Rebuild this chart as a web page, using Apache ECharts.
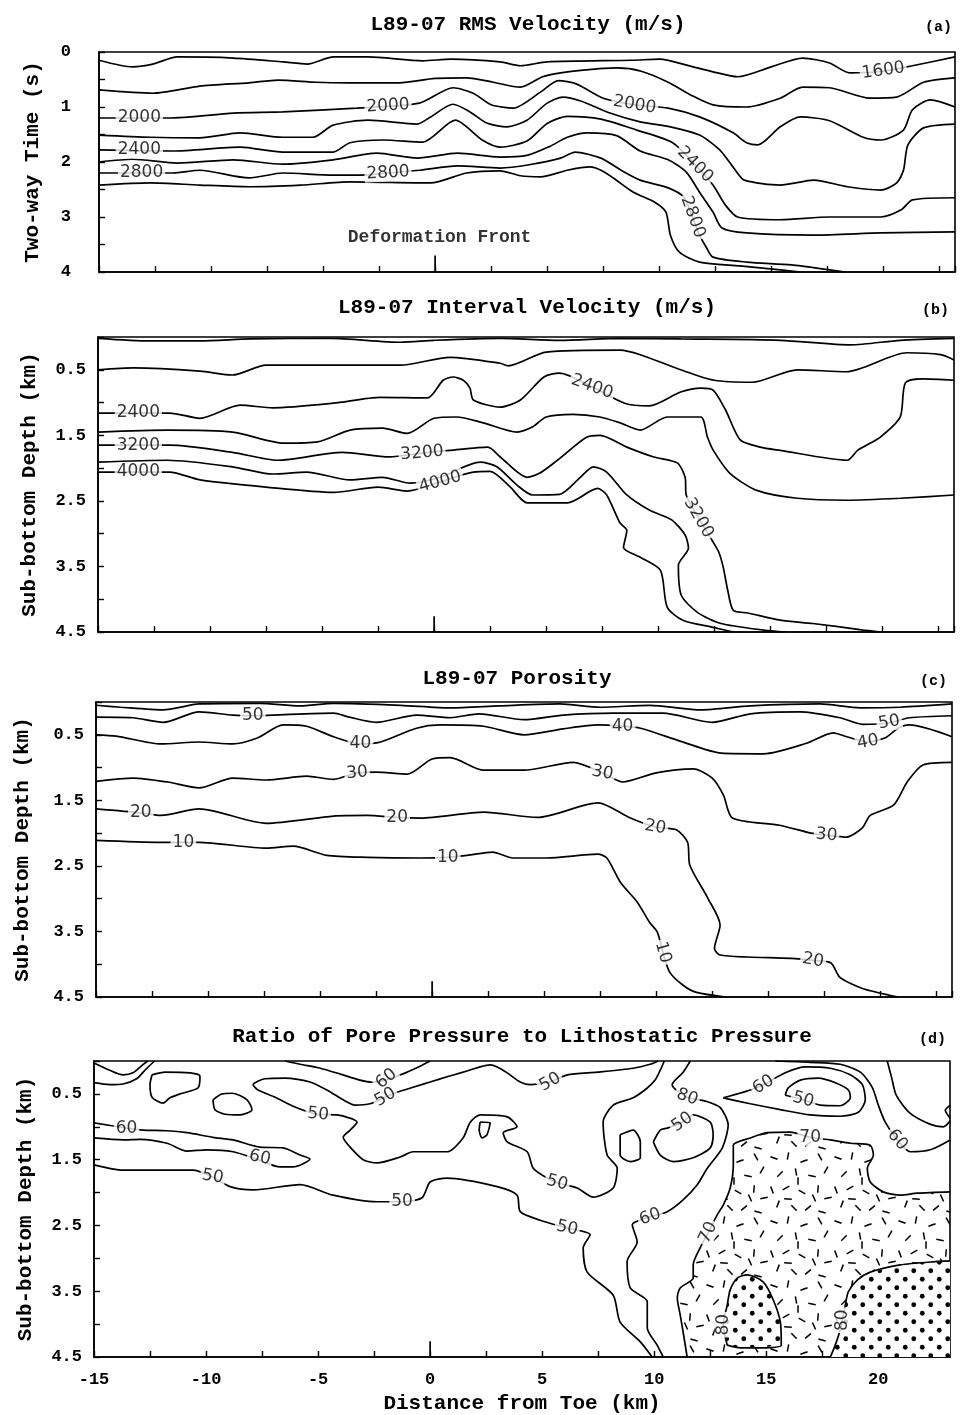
<!DOCTYPE html>
<html><head><meta charset="utf-8">
<script src="https://cdn.jsdelivr.net/npm/echarts@6/dist/echarts.min.js"></script>
<style>html,body{margin:0;padding:0;background:#fff}#chart{width:967px;height:1415px}</style>
</head><body><div id="chart"></div>
<script>
// ================= DATA =================
// x: distance from toe (km); y: two-way time (s) in (a), sub-bottom depth (km) in (b)-(d)
const xMin = -15, xMax = 23.2, xStep = 2.5;
const deformationFrontKm = 0;
const panelYMax = [4, 4.5, 4.5, 4.5];
const panelTitles = ['L89-07 RMS Velocity (m/s)', 'L89-07 Interval Velocity (m/s)', 'L89-07 Porosity', 'Ratio of Pore Pressure to Lithostatic Pressure'];
const panelLetters = ['(a)', '(b)', '(c)', '(d)'];
const yNames = ['Two-way Time (s)', 'Sub-bottom Depth (km)', 'Sub-bottom Depth (km)', 'Sub-bottom Depth (km)'];
const xName = 'Distance from Toe (km)';

// ---- (a) RMS velocity contours ----
const rms1600 = [[-15,0.15],[-13.5,0.27],[-12.6,0.22],[-11.5,0.09],[-9,0.11],[-6.8,0.18],[-5.7,0.22],[-4.55,0.09],[-3,0.09],[-0.55,0.16],[0.7,0.13],[2.9,0.18],[3.8,0.25],[5,0.18],[8.8,0.15],[10,0.13],[11.5,0.27],[12.4,0.36],[13.5,0.45],[15,0.27],[16.4,0.11],[17.6,0.2],[18.5,0.38],[20,0.35],[21.3,0.25],[23.2,0.09]];
const rms1800 = [[-15,0.69],[-12.6,0.75],[-10.5,0.62],[-8.3,0.56],[-7,0.51],[-5.3,0.55],[-3.8,0.56],[-1.6,0.56],[0,0.48],[1.4,0.47],[2.6,0.55],[3.8,0.64],[4.8,0.45],[5.6,0.38],[6.6,0.33],[8.1,0.29],[9.2,0.35],[10.4,0.55],[11.4,0.78],[12.4,0.96],[13.9,1.0],[15.4,0.84],[16.4,0.64],[17.6,0.65],[19.4,0.84],[20.6,0.82],[21.8,0.55],[23.2,0.47]];
const rms2000 = [[-15,1.2],[-11.8,1.2],[-10.9,1.18],[-9,1.11],[-6.8,1.09],[-3.5,1.02],[-0.7,0.93],[0.8,0.65],[1.7,0.75],[2.5,0.96],[3.5,1.02],[4.7,0.73],[5.5,0.52],[6.3,0.58],[7.5,0.84],[8.9,0.96],[10.4,1.02],[11.8,1.18],[13.3,1.47],[13.9,1.65],[14.4,1.69],[15.4,1.36],[16.3,1.18],[17.6,1.25],[19.1,1.55],[19.9,1.6],[20.9,1.42],[21.3,1.05],[22.1,0.87],[23.2,1.0]];
const rms2200 = [[-15,1.51],[-12.7,1.55],[-10.5,1.56],[-8.7,1.47],[-6.8,1.55],[-5.45,1.55],[-4.55,1.33],[-3,1.24],[-0.8,1.31],[-0.2,1.18],[0.8,0.95],[1.56,1.09],[2.3,1.29],[3.2,1.36],[4.1,1.24],[5,0.93],[5.7,0.82],[6.5,0.89],[7.8,1.11],[9.15,1.27],[10.5,1.36],[11.8,1.51],[12.7,1.78],[13.4,2.15],[13.8,2.33],[15.4,2.42],[16.9,2.33],[18.4,2.45],[19.9,2.51],[20.6,2.38],[20.9,2.15],[21.1,1.69],[21.8,1.38],[23.2,1.31]];
const rms2400 = [[-15,1.78],[-11.7,1.8],[-8.7,1.73],[-6.8,1.82],[-4.55,1.82],[-3.8,1.65],[-2.3,1.6],[-0.55,1.64],[0.9,1.24],[2.1,1.6],[2.9,1.73],[4.1,1.62],[5,1.3],[5.9,1.17],[7.4,1.22],[9,1.42],[10.6,1.65],[11.6,2.05],[12.4,2.42],[12.95,2.78],[13.5,3.0],[15.4,3.05],[17.6,3.0],[19.9,3.0],[20.8,2.87],[21.3,2.69],[23.2,2.65]];
const rms2600 = [[-15,2.0],[-13.5,1.95],[-11.5,2.02],[-9,1.96],[-6.8,2.04],[-4.55,1.96],[-2.6,1.84],[-0.8,1.93],[1,1.84],[2.9,1.91],[4.1,1.88],[5.1,1.72],[5.9,1.55],[6.8,1.47],[8.1,1.52],[9.15,1.8],[10.4,1.96],[11.2,2.18],[11.8,2.55],[12.4,2.91],[12.8,3.2],[13.9,3.29],[16.9,3.33],[19.9,3.29],[23.2,3.27]];
const rms2800 = [[-15,2.2],[-11.7,2.2],[-10.5,2.15],[-8.3,2.29],[-6.8,2.2],[-4.55,2.24],[-3.5,2.24],[-2.1,2.2],[-0.7,2.15],[1,2.07],[2.9,2.11],[4.2,2.05],[5.6,1.93],[6.25,1.82],[7.4,1.93],[8.3,2.15],[9.15,2.33],[10.4,2.47],[11.1,2.64],[11.5,3.02],[11.8,3.33],[12.1,3.55],[12.4,3.73],[13.9,3.82],[15.9,3.87],[17.6,3.96],[18.3,4.0]];
const rms3000 = [[-15,2.42],[-12.7,2.38],[-10.5,2.42],[-8.3,2.45],[-6,2.42],[-3.8,2.36],[-0.2,2.38],[1.4,2.2],[2.9,2.16],[3.8,2.25],[4.7,2.27],[5.9,2.15],[6.9,2.09],[7.4,2.15],[7.95,2.29],[8.85,2.55],[9.8,2.73],[10.3,2.91],[10.5,3.33],[10.9,3.64],[11.8,3.82],[13.6,3.89],[15.4,3.96],[16.3,4.0]];
const rmsLabels = [['2000',-13.2,1.2,0],['2000',-2.1,0.98,3],['2000',8.9,0.96,-10],['1600',20,0.34,8],['2400',-13.2,1.78,0],['2400',11.6,2.05,-45],['2800',-13.1,2.2,0],['2800',-2.1,2.2,3],['2800',11.5,3.0,-70]];

// ---- (b) interval velocity contours ----
const int1800 = [[-15,0.02],[-12.7,0.06],[-10.45,0.06],[-8.2,0.03],[-4.6,0.02],[-1.5,0.08],[0,0.05],[2.95,0.02],[5.6,0.05],[8.3,0.02],[11,0.03],[15.45,0.05],[18.6,0.12],[20.8,0.05],[23.2,0.02]];
const int2000 = [[-15,0.5],[-13.4,0.47],[-10.45,0.52],[-9,0.58],[-7.5,0.43],[-4.5,0.43],[-1.5,0.43],[0.7,0.31],[2.95,0.4],[3.3,0.44],[5,0.23],[8.3,0.2],[9.2,0.27],[11,0.5],[12.5,0.66],[14.2,0.69],[16.2,0.5],[18.4,0.53],[21.1,0.24],[22.6,0.27],[23.2,0.35]];
const int2400 = [[-15,1.16],[-11.8,1.16],[-10.45,1.24],[-8.66,1.04],[-7.2,1.08],[-4.5,1.01],[-2.4,0.92],[-0.3,0.93],[0.4,0.66],[0.85,0.61],[1.3,0.66],[1.6,0.78],[1.75,0.96],[2.95,1.07],[3.85,0.96],[4.9,0.61],[5.6,0.55],[7.05,0.76],[8.5,1.01],[9.6,1.05],[11,0.84],[11.9,0.78],[12.45,0.81],[13,1.11],[13.66,1.57],[14.55,1.68],[15.45,1.73],[18.44,1.88],[18.9,1.73],[19.9,1.53],[20.8,1.22],[21.03,0.7],[21.8,0.64],[23.2,0.66]];
const int2800 = [[-15,1.45],[-11.9,1.42],[-9,1.45],[-6.7,1.62],[-5.2,1.6],[-3.75,1.42],[-2.3,1.39],[-1.2,1.47],[0,1.24],[1,1.22],[2.2,1.31],[3.7,1.45],[4.4,1.37],[5,1.22],[6.2,1.18],[7.4,1.22],[8.3,1.31],[9.2,1.42],[10.4,1.22],[11.9,1.22],[12.2,1.53],[12.46,1.73],[13.2,2.08],[14.4,2.34],[16.2,2.46],[18.4,2.49],[20.8,2.46],[23.2,2.41]];
const int3200 = [[-15,1.65],[-11.8,1.65],[-9,1.76],[-7,1.88],[-4.1,1.76],[-2,1.83],[-0.54,1.77],[0.7,1.73],[2.4,1.68],[2.95,1.83],[4.15,2.14],[4.7,2.08],[5.5,1.88],[6.8,1.53],[7.4,1.5],[8.6,1.68],[9.8,1.83],[10.85,1.92],[11.2,2.14],[11.25,2.41],[11.8,2.76],[12.4,3.1],[12.7,3.28],[12.9,3.51],[13.1,3.86],[13.35,4.17],[14,4.21],[15.45,4.32],[16.9,4.37],[19.15,4.47],[19.9,4.5]];
const int3600 = [[-15,1.91],[-11.9,1.88],[-9,1.98],[-7.2,2.09],[-5.7,2.06],[-3.75,2.18],[-2.3,2.14],[-1.07,2.23],[0.27,2.14],[2.05,1.91],[2.8,1.98],[3.7,2.26],[4.4,2.41],[5.6,2.4],[6.5,2.15],[7.1,1.98],[7.7,2.06],[8.6,2.41],[9.6,2.64],[10.6,2.79],[11.2,3.02],[11.35,3.22],[10.9,3.48],[11.03,3.94],[11.75,4.2],[12.8,4.37],[14.7,4.47],[15.7,4.5]];
const int4000 = [[-15,2.06],[-11.8,2.06],[-10.45,2.18],[-7.5,2.29],[-4.5,2.37],[-2.5,2.29],[-1.2,2.35],[0.27,2.21],[1.75,2.06],[2.5,2.05],[3.4,2.29],[4.15,2.53],[5.95,2.53],[7.3,2.31],[7.7,2.41],[8.3,2.84],[8.6,2.95],[8.45,3.21],[9.2,3.36],[10.1,3.56],[10.4,4.12],[11.1,4.32],[12.45,4.43],[13.35,4.5]];
const intLabels = [['2400',-13.2,1.16,0],['2400',7.05,0.76,-20],['3200',-13.2,1.65,0],['3200',-0.54,1.77,5],['3200',11.8,2.76,-60],['4000',-13.2,2.06,0],['4000',0.27,2.21,15]];

// ---- (c) porosity contours (%) ----
const por60 = [[-15,0.05],[-13.9,0.08],[-12,0.12],[-10.4,0.03],[-7.7,0.02],[-5.9,0.06],[-4.4,0.02],[-1.4,0.05],[0.8,0.09],[3,0.06],[5.7,0.03],[7.5,0.08],[9.7,0.05],[12,0.12],[14.2,0.06],[17.3,0.03],[19.1,0.09],[20.9,0.08],[23.2,0.03]];
const por50 = [[-15,0.23],[-13.35,0.24],[-12,0.31],[-10.4,0.15],[-8.9,0.2],[-8,0.21],[-7.1,0.2],[-4.4,0.17],[-3.7,0.23],[-2.5,0.31],[-0.7,0.2],[0.8,0.24],[2.1,0.18],[4.1,0.27],[5.85,0.2],[8.1,0.17],[10.3,0.17],[12.5,0.31],[14.2,0.18],[16.4,0.15],[18.2,0.24],[19.2,0.34],[20.4,0.32],[21.3,0.24],[23.2,0.21]];
const por40 = [[-15,0.5],[-14.1,0.52],[-12.1,0.64],[-10.4,0.61],[-8.9,0.64],[-7.8,0.55],[-6.65,0.35],[-5.6,0.37],[-4.4,0.53],[-3.2,0.64],[-2.3,0.61],[-0.7,0.4],[0.35,0.35],[2.3,0.37],[4.1,0.5],[5.85,0.41],[7.4,0.35],[8.5,0.37],[9.3,0.4],[11.1,0.6],[12.9,0.78],[14.8,0.79],[16.7,0.63],[17.9,0.47],[18.5,0.53],[19.45,0.61],[20.2,0.55],[20.8,0.4],[21.3,0.35],[23.2,0.53]];
const por30 = [[-15,1.21],[-13.35,1.16],[-11.8,1.22],[-10.4,1.31],[-8.9,1.16],[-7.4,1.19],[-5.6,1.13],[-4.4,1.18],[-3.35,1.08],[-2.5,1.07],[-1.1,1.1],[0,0.87],[0.8,0.85],[2.3,1.04],[4.1,1.04],[6.3,0.92],[7.6,1.08],[8.5,1.22],[10,1.08],[11.65,1.02],[12.5,1.16],[13,1.42],[13.4,1.77],[15.5,1.88],[16.9,2.0],[17.6,2.03],[18.5,2.06],[19.2,1.92],[19.55,1.73],[20.6,1.57],[21.2,1.22],[21.9,0.96],[23.2,0.92]];
const por20 = [[-15,1.63],[-13,1.69],[-12.1,1.73],[-10.4,1.63],[-7.4,1.85],[-4.4,1.74],[-2.9,1.73],[-1.56,1.76],[-0.5,1.77],[2.3,1.68],[4.7,1.76],[7.4,1.54],[8.85,1.77],[9.96,1.91],[10.9,1.95],[11.4,2.14],[11.5,2.49],[12.3,2.99],[12.85,3.4],[12.6,3.76],[12.85,3.86],[14.1,3.89],[16,3.91],[17,3.94],[17.8,3.98],[18.2,4.2],[19.2,4.37],[20.8,4.5]];
const por10 = [[-15,2.11],[-12.1,2.14],[-11.1,2.14],[-10.4,2.14],[-7.4,2.23],[-6.2,2.2],[-4.7,2.34],[-2.9,2.37],[-0.5,2.38],[0.7,2.37],[1.56,2.34],[2.7,2.29],[3.6,2.38],[5.1,2.38],[7.4,2.32],[7.8,2.38],[8.4,2.75],[9.15,3.05],[9.7,3.36],[10.05,3.51],[10.3,3.82],[10.6,4.12],[11.2,4.32],[11.8,4.43],[13.1,4.5]];
const porLabels = [['50',-8,0.21,0],['40',-3.2,0.64,0],['40',8.5,0.37,0],['40',19.45,0.61,10],['50',20.4,0.31,10],['30',-3.35,1.08,5],['30',7.6,1.08,-10],['30',17.6,2.03,-5],['20',-13.0,1.69,0],['20',-1.56,1.76,0],['20',9.96,1.91,-10],['20',17.0,3.94,-10],['10',-11.1,2.14,0],['10',0.7,2.37,0],['10',10.3,3.82,-75]];

// ---- (d) pore pressure / lithostatic pressure contours (%) ----
const pTopLeftA = [[-15,0.03],[-14.3,0.14],[-13.7,0.21],[-13.26,0.18],[-12.8,0.05],[-12.6,0]];
const pTopLeftB = [[-15,0.33],[-14.3,0.36],[-13.7,0.35],[-13.1,0.27],[-12.7,0.13],[-12.3,0]];
const pLoopA = [[-12.41,0.21],[-11.83,0.17],[-10.71,0.18],[-10.27,0.23],[-10.36,0.41],[-11.16,0.5],[-11.61,0.56],[-11.92,0.64],[-12.41,0.55],[-12.5,0.36],[-12.41,0.21]];
const pLoopB = [[-9.69,0.59],[-9.29,0.5],[-8.84,0.49],[-8.17,0.59],[-7.95,0.74],[-8.48,0.82],[-9.15,0.81],[-9.6,0.74],[-9.69,0.59]];
const p60Top = [[-6.47,0],[-5.8,0.05],[-4.9,0.11],[-4,0.2],[-3.13,0.29],[-2.6,0.32],[-1.9,0.28],[-1.1,0.18],[-0.45,0.08],[0,0]];
const p50Upper = [[10.18,0],[9.82,0.05],[9.06,0.11],[7.46,0.17],[6.12,0.21],[5.36,0.32],[4.46,0.36],[4.02,0.32],[3.44,0.18],[2.99,0.09],[2.68,0.06],[2.23,0.09],[1.47,0.17],[0.76,0.24],[0,0.32],[-0.76,0.4],[-1.34,0.46],[-2.01,0.55],[-2.68,0.65],[-3.35,0.67],[-3.88,0.59],[-4.46,0.47],[-5.36,0.32],[-6.47,0.26],[-7.37,0.27],[-7.9,0.36],[-7.68,0.44],[-6.92,0.55],[-6.03,0.7],[-5.04,0.81],[-4.15,0.82],[-3.26,0.93],[-3.57,1.05],[-3.88,1.16],[-3.57,1.31],[-2.99,1.5],[-2.37,1.55],[-1.34,1.46],[-0.76,1.38],[0.76,1.38],[1.47,1.17],[1.79,0.93],[2.23,0.82],[3.44,0.85],[3.88,1.0],[3.26,1.09],[3.44,1.23],[4.33,1.38],[4.6,1.63],[5.22,1.78],[5.67,1.85],[6.56,1.93],[7.28,2.07],[8.17,1.93],[8.35,1.63],[7.9,1.43],[7.72,0.93],[8.17,0.67],[9.06,0.56],[9.69,0.41],[10.04,0.29],[10.27,0.14],[10.45,0]];
const pSmallLoop1 = [[2.23,0.93],[2.68,0.94],[2.54,1.12],[2.32,1.17],[2.19,1.05],[2.23,0.93]];
const p60Left = [[-15,0.94],[-13.53,1.02],[-12.81,1.05],[-11.74,1.06],[-10.85,1.09],[-9.69,1.16],[-8.79,1.2],[-7.59,1.31],[-6.56,1.32],[-5.8,1.43],[-5.36,1.49],[-6.12,1.61],[-6.7,1.61],[-7.68,1.5],[-8.79,1.38],[-9.96,1.35],[-10.85,1.37],[-11.74,1.25],[-12.95,1.19],[-13.71,1.2],[-15,1.17]];
const p50Left = [[-15,1.58],[-13.71,1.66],[-10.58,1.66],[-9.73,1.76],[-8.93,1.91],[-7.9,1.96],[-5.8,1.88],[-4.33,2.04],[-2.37,2.14],[-1.25,2.14],[-0.36,2.08],[0,1.84],[0.76,1.78],[2.99,1.91],[3.88,2.04],[4.02,2.29],[4.91,2.42],[6.12,2.54],[7.14,2.64],[6.83,2.84],[7.01,3.21],[8.17,3.56],[8.48,3.97],[9.38,4.27],[9.91,4.5]];
const p50Loop = [[9.96,1.23],[10.27,1.05],[10.58,1.02],[11.25,0.93],[11.74,0.82],[12.5,0.93],[12.63,1.12],[12.5,1.32],[11.74,1.47],[10.85,1.53],[10.27,1.43],[9.96,1.23]];
const pSmallLoop2 = [[8.48,1.12],[9.06,1.05],[9.38,1.23],[9.38,1.47],[8.93,1.53],[8.48,1.43],[8.48,1.12]];
const p60Mid = [[11.61,0],[11.29,0.17],[10.8,0.36],[11.47,0.55],[12.28,0.61],[12.95,0.71],[13.3,0.97],[13.04,1.32],[12.37,1.63],[11.92,1.88],[11.29,2.11],[10.58,2.29],[9.82,2.37],[9.02,2.49],[9.24,2.75],[8.79,3.05],[8.93,3.45],[9.69,3.66],[9.69,4.06],[10.13,4.32],[10.4,4.5]];
const p60RightLoop = [[13.08,0.56],[13.71,0.5],[14.29,0.44],[14.87,0.36],[15.85,0.18],[16.74,0.09],[17.86,0.11],[18.75,0.21],[19.29,0.36],[19.42,0.59],[19.11,0.78],[18.3,0.84],[16.96,0.82],[15.63,0.74],[14.29,0.65],[13.08,0.56]];
const p50RightLoop = [[15.85,0.52],[16.65,0.59],[17.41,0.67],[18.3,0.68],[18.75,0.56],[18.66,0.44],[18.08,0.33],[17.32,0.26],[16.52,0.29],[15.98,0.41],[15.85,0.52]];
const p60Right = [[15.4,0],[16.96,0.02],[18.3,0.05],[19.2,0.17],[19.73,0.4],[20.0,0.67],[20.31,0.93],[20.85,1.2],[21.43,1.38],[22.32,1.35],[23.21,1.2]];
const pRightEdgeA = [[20.4,0],[20.6,0.26],[20.8,0.52],[21.4,0.79],[22.3,0.96],[22.9,1.0],[23.21,0.91]];
const pRightEdgeB = [[23.21,0.67],[22.99,0.75],[23.21,0.87]];
const p70 = [[11.47,4.5],[11.29,4.12],[11.16,3.86],[11.03,3.6],[11.16,3.45],[11.74,3.3],[11.74,3.1],[12.05,2.84],[12.41,2.61],[12.81,2.34],[13.08,2.19],[13.39,1.93],[13.53,1.58],[13.53,1.28],[14.29,1.17],[15.04,1.09],[16.07,1.08],[16.96,1.16],[17.86,1.2],[18.75,1.25],[19.64,1.28],[19.78,1.43],[19.51,1.63],[19.64,1.84],[20.22,1.99],[20.98,2.04],[21.74,2.01],[23.21,1.99]];
const p80Right = [[17.86,4.5],[18.08,4.32],[18.3,4.09],[18.39,3.94],[18.53,3.71],[18.66,3.51],[19.06,3.33],[19.64,3.21],[20.98,3.1],[22.54,3.05],[23.21,3.04]];
const p80Left = [[13.26,4.32],[13.08,4.01],[13.26,3.71],[13.39,3.48],[13.71,3.3],[14.15,3.25],[14.87,3.36],[15.31,3.63],[15.63,3.97],[15.67,4.32],[14.73,4.36],[13.84,4.36],[13.26,4.32]];
const poreLabels = [['60',-13.55,1.02,0],['60',-7.6,1.47,-12],['50',-9.7,1.76,-10],['50',-5.0,0.81,-5],['60',-1.95,0.27,40],['50',-2.0,0.55,30],['50',5.36,0.32,30],['50',-1.25,2.14,0],['50',5.67,1.85,-15],['50',6.12,2.54,-12],['60',9.82,2.37,20],['50',11.25,0.93,35],['80',11.47,0.55,-20],['60',14.87,0.36,30],['50',16.65,0.59,-15],['70',16.96,1.16,0],['60',20.85,1.2,-50],['70',12.41,2.61,65],['80',13.08,4.01,90],['80',18.39,3.94,90]];

const frontLabel = ['Deformation Front', 0.2, 3.38];

// ================= CHART =================
const panelLines = [
  [rms1600, rms1800, rms2000, rms2200, rms2400, rms2600, rms2800, rms3000],
  [int1800, int2000, int2400, int2800, int3200, int3600, int4000],
  [por60, por50, por40, por30, por20, por10],
  [pTopLeftA, pTopLeftB, pLoopA, pLoopB, p60Top, p50Upper, pSmallLoop1, p60Left, p50Left, p50Loop, pSmallLoop2, p60Mid, p60RightLoop, p50RightLoop, p60Right, pRightEdgeA, pRightEdgeB, p70, p80Right, p80Left]
];
const panelLabels = [rmsLabels, intLabels, porLabels, poreLabels];

const grids = [
  {left: 99, right: 12, top: 52, height: 220},
  {left: 98, right: 13, top: 337, height: 295},
  {left: 96, right: 15, top: 702, height: 295},
  {left: 94, right: 17, top: 1061, height: 296}
];
const titleY = [25, 308, 679, 1037];
const titleX = [528, 527, 517, 522];
const letterX = [952, 949, 947, 946];
const yNameGap = [56, 58, 63, 58];
const MONO = '"Liberation Mono", "DejaVu Sans Mono", monospace';

function makeHatch() {
  const c = document.createElement('canvas'); c.width = 64; c.height = 64;
  const g = c.getContext('2d'); g.strokeStyle = '#000'; g.lineWidth = 1.5;
  const marks = [[6,6,20],[20,4,100],[36,9,160],[52,5,60],[12,22,135],[28,20,80],[44,24,10],[58,18,120],[4,38,70],[18,36,150],[34,40,30],[50,37,95],[60,46,170],[10,52,110],[26,56,45],[40,56,140],[54,60,15],[30,29,90],[46,46,65],[20,47,5]];
  marks.forEach(([x,y,a]) => { const r = a*Math.PI/180, L = 3.8; g.beginPath(); g.moveTo(x-L*Math.cos(r), y-L*Math.sin(r)); g.lineTo(x+L*Math.cos(r), y+L*Math.sin(r)); g.stroke(); });
  return c;
}
function makeDots() {
  const c = document.createElement('canvas'); c.width = 17; c.height = 17;
  const g = c.getContext('2d'); g.fillStyle = '#fff'; g.fillRect(0,0,17,17); g.fillStyle = '#000';
  [[4.25,4.25],[12.75,12.75]].forEach(([x,y]) => { g.beginPath(); g.arc(x,y,2.4,0,Math.PI*2); g.fill(); });
  return c;
}
const hatchFill = {image: makeHatch(), repeat: 'repeat'};
const dotFill = {image: makeDots(), repeat: 'repeat'};

function polygonSeries(gi, poly, fill, z) {
  return {type: 'custom', coordinateSystem: 'cartesian2d', xAxisIndex: gi, yAxisIndex: gi, z, silent: true, clip: true,
    data: [poly[0]],
    renderItem: (params, api) => ({type: 'polygon', shape: {points: poly.map(p => api.coord(p))}, style: {fill, stroke: null}})
  };
}

const series = [];
panelLines.forEach((lines, gi) => {
  lines.forEach(d => series.push({type: 'line', xAxisIndex: gi, yAxisIndex: gi, data: d, showSymbol: false, symbol: 'none', smooth: 0.25, silent: true, z: 3,
    lineStyle: {color: '#000', width: 1.7}}));
  series.push({type: 'line', xAxisIndex: gi, yAxisIndex: gi, showSymbol: false, symbol: 'none', silent: true, z: 3,
    data: [[deformationFrontKm, panelYMax[gi]], [deformationFrontKm, panelYMax[gi] - (gi === 0 ? 0.3 : 0.24)]], lineStyle: {color: '#000', width: 1.7}});
  series.push({type: 'scatter', xAxisIndex: gi, yAxisIndex: gi, symbolSize: 1, silent: true, z: 5, itemStyle: {color: 'rgba(0,0,0,0)'},
    label: {show: true, position: 'inside', color: '#000', fontFamily: '"DejaVu Sans", sans-serif', fontSize: 17, backgroundColor: '#fff', padding: [0, 2], lineHeight: 17},
    data: panelLabels[gi].map(([t, x, y, r]) => ({value: [x, y], label: {formatter: t, rotate: r}}))});
});
series.push(polygonSeries(3, [...p70, [xMax, 4.5]], hatchFill, 1));
series.push(polygonSeries(3, [...p80Right, [xMax, 4.5]], dotFill, 2));
series.push(polygonSeries(3, p80Left, dotFill, 2));
series.push({type: 'scatter', xAxisIndex: 0, yAxisIndex: 0, symbolSize: 1, silent: true, z: 5, itemStyle: {color: 'rgba(0,0,0,0)'},
  label: {show: true, position: 'inside', color: '#000', fontFamily: MONO, fontWeight: 'bold', fontSize: 18},
  data: [{value: [frontLabel[1], frontLabel[2]], label: {formatter: frontLabel[0]}}]});

const axisFont = {color: '#000', fontFamily: MONO, fontWeight: 'bold', fontSize: 17};
const option = {
  animation: false,
  backgroundColor: '#fff',
  grid: grids.map(g => Object.assign({show: true, borderColor: '#000', borderWidth: 1.6, backgroundColor: 'transparent', containLabel: false, outerBoundsMode: 'none'}, g)),
  xAxis: grids.map((g, i) => ({
    gridIndex: i, type: 'value', position: 'bottom', min: xMin, max: xMax, interval: xStep,
    axisLine: {show: true, onZero: false, lineStyle: {color: '#000', width: 1.6}},
    axisTick: {show: true, inside: true, length: 6, lineStyle: {color: '#000', width: 1.4}},
    axisLabel: Object.assign({show: i === 3, margin: 14, showMaxLabel: false, formatter: v => (Math.abs(v % 5) < 1e-9 ? String(v) : '')}, axisFont),
    splitLine: {show: false},
    name: i === 3 ? xName : '', nameLocation: 'middle', nameGap: 36,
    nameTextStyle: {color: '#000', fontFamily: MONO, fontWeight: 'bold', fontSize: 21}
  })),
  yAxis: grids.map((g, i) => ({
    gridIndex: i, type: 'value', position: 'left', inverse: true, min: 0, max: panelYMax[i], interval: 0.5,
    axisLine: {show: true, onZero: false, lineStyle: {color: '#000', width: 1.6}},
    axisTick: {show: true, inside: true, length: 6, lineStyle: {color: '#000', width: 1.4}},
    axisLabel: Object.assign({margin: i === 0 ? 28 : 12,
      formatter: i === 0 ? (v => (Math.abs(v % 1) < 1e-9 ? String(v) : '')) : (v => (Math.abs((v % 1) - 0.5) < 1e-9 ? v.toFixed(1) : ''))}, axisFont),
    splitLine: {show: false},
    name: yNames[i], nameLocation: 'middle', nameGap: yNameGap[i], nameRotate: 90,
    nameTextStyle: {color: '#000', fontFamily: MONO, fontWeight: 'bold', fontSize: 21}
  })),
  graphic: [
    ...panelTitles.map((t, i) => ({type: 'text', x: titleX[i], y: titleY[i], silent: true,
      style: {text: t, fill: '#000', font: 'bold 21px ' + MONO, textAlign: 'center', textVerticalAlign: 'middle'}})),
    ...panelLetters.map((t, i) => ({type: 'text', x: letterX[i], y: titleY[i] + 2, silent: true,
      style: {text: t, fill: '#000', font: 'bold 15px ' + MONO, textAlign: 'right', textVerticalAlign: 'middle'}}))
  ],
  series
};
const chart = echarts.init(document.getElementById('chart'));
chart.setOption(option);
</script>
</body></html>
